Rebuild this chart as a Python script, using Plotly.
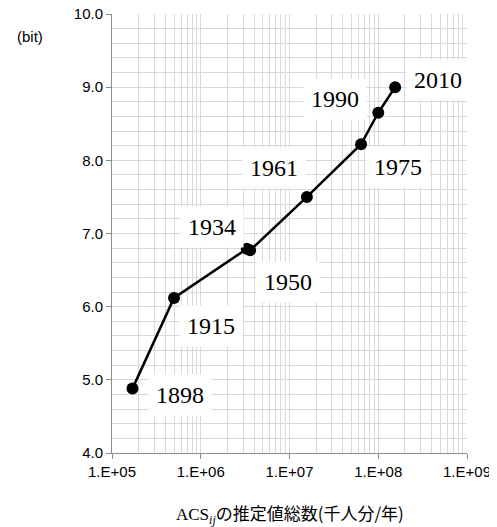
import math
import plotly.graph_objects as go

years = ["1898", "1915", "1934", "1950", "1961", "1975", "1990", "2010"]
acs_total = [1.7e5, 5.0e5, 3.3e6, 3.6e6, 1.57e7, 6.4e7, 1.0e8, 1.55e8]
bits = [4.88, 6.12, 6.79, 6.77, 7.50, 8.22, 8.65, 9.00]
x_tick_vals = [1e5, 1e6, 1e7, 1e8, 1e9]
x_tick_text = ["1.E+05", "1.E+06", "1.E+07", "1.E+08", "1.E+09"]

# label offsets (pixels) relative to each point
label_dx = [48, 37, -35, 38, -33, 37, -43, 43]
label_dy = [-6, -28, 22, -32, 29, -23, 14, 7]

fig = go.Figure()
fig.add_trace(go.Scatter(
    x=acs_total, y=bits, mode="lines+markers",
    line=dict(color="black", width=2.5),
    marker=dict(color="black", size=12),
    showlegend=False, hoverinfo="skip",
))

for yr, xv, yv, dx, dy in zip(years, acs_total, bits, label_dx, label_dy):
    fig.add_annotation(
        x=math.log10(xv), y=yv, xref="x", yref="y", text=yr, showarrow=False,
        xshift=dx, yshift=dy, bgcolor="white", borderpad=7,
        font=dict(family="Liberation Serif", size=24, color="black"),
    )

grid_c = "#d9d9d9"
fig.update_xaxes(
    type="log", range=[5, 9], tickvals=x_tick_vals, ticktext=x_tick_text,
    showgrid=True, gridcolor=grid_c, gridwidth=1,
    showline=True, linecolor="#8c8c8c", linewidth=1,
    ticks="outside", ticklen=5, tickcolor="#8c8c8c",
    tickfont=dict(family="Liberation Sans", size=15, color="black"),
    minor=dict(dtick="D1", showgrid=True, gridcolor=grid_c, gridwidth=1, ticks=""),
    zeroline=False, automargin=False, ticklabeloverflow="allow",
)
fig.update_yaxes(
    range=[4, 10], dtick=1, tickformat=".1f",
    showgrid=True, gridcolor=grid_c, gridwidth=1,
    showline=True, linecolor="#8c8c8c", linewidth=1,
    ticks="outside", ticklen=5, tickcolor="#8c8c8c",
    tickfont=dict(family="Liberation Sans", size=15, color="black"),
    minor=dict(dtick=0.2, showgrid=True, gridcolor=grid_c, gridwidth=1, ticks=""),
    zeroline=False, automargin=False, ticklabeloverflow="allow",
)

fig.add_annotation(
    x=0, y=1, xref="paper", yref="paper", xanchor="right", yanchor="middle",
    xshift=-67, yshift=-22, text="(bit)", showarrow=False,
    font=dict(family="Liberation Sans", size=15, color="black"),
)
fig.add_annotation(
    x=0.5, y=0, xref="paper", yref="paper", xanchor="center", yanchor="middle",
    yshift=-60, text="<span style='font-family:Liberation Serif'>ACS<sub><i>ij</i></sub></span>の推定値総数(千人分/年)",
    showarrow=False,
    font=dict(family="Noto Sans CJK JP", size=17, color="black"),
)

fig.update_layout(
    width=489, height=519,
    margin=dict(l=104, r=30, t=6, b=74),
    plot_bgcolor="white", paper_bgcolor="white",
)
fig.write_html("out.html")
